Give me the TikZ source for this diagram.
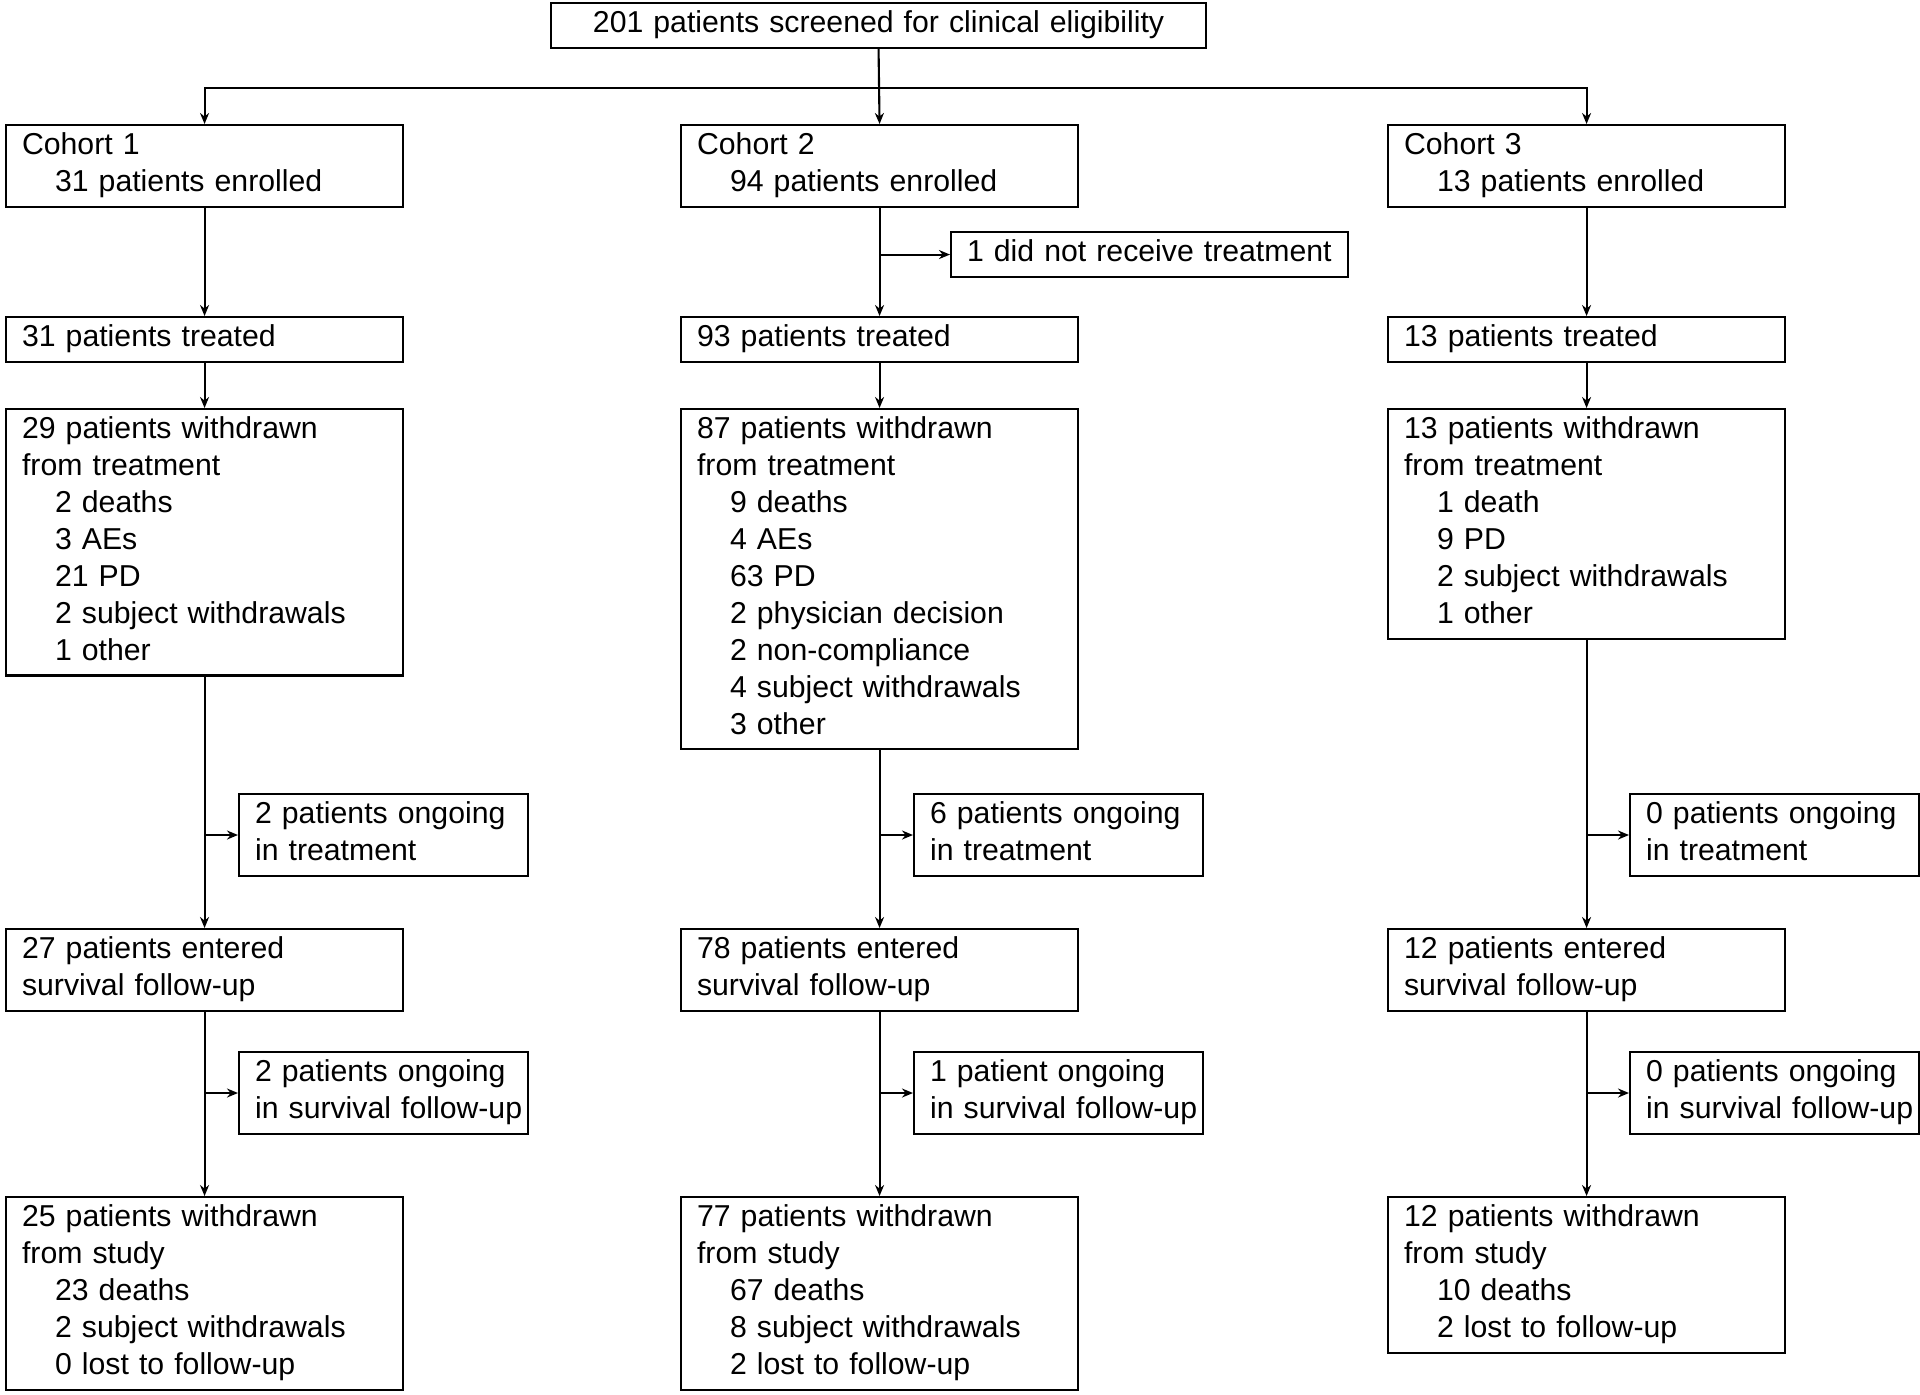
\documentclass[tikz,border=0pt]{standalone}
\usepackage{fontspec}
\setmainfont{Liberation Sans}
\usetikzlibrary{arrows.meta}
\newcommand{\ind}{\hspace*{3.3mm}}
\tikzset{
  box/.style={draw, line width=0.6pt, anchor=north west, align=left,
    text width=3.65cm, inner xsep=1.6mm, inner ysep=1.15pt,
    font=\fontsize{8.6}{10.5}\selectfont,
    execute at begin node=\strut, execute at end node=\strut},
  sidebox/.style={box, text width=2.57cm},
  arr/.style={line width=0.6pt, -{Stealth[length=1.1mm,width=0.9mm]}}
}
\begin{document}
\begin{tikzpicture}
\useasboundingbox (0,0) rectangle (19.2,-13.94);
\node[box, text width=6.23cm, align=center] (scr) at (5.50,-0.02) {201 patients screened for clinical eligibility};
\coordinate (split) at (8.78,-0.88);

\node[box] (c1) at (0.05,-1.24) {Cohort 1\\\ind 31 patients enrolled};
\node[box] (c2) at (6.80,-1.24) {Cohort 2\\\ind 94 patients enrolled};
\node[box] (c3) at (13.87,-1.24) {Cohort 3\\\ind 13 patients enrolled};
\node[box] (nr) at (9.50,-2.31) {\mbox{1 did not receive treatment}};

\node[box] (t1) at (0.05,-3.16) {31 patients treated};
\node[box] (t2) at (6.80,-3.16) {93 patients treated};
\node[box] (t3) at (13.87,-3.16) {13 patients treated};

\node[box] (w1) at (0.05,-4.08) {29 patients withdrawn\\from treatment\\\ind 2 deaths\\\ind 3 AEs\\\ind 21 PD\\\ind 2 subject withdrawals\\\ind 1 other};
\node[box] (w2) at (6.80,-4.08) {87 patients withdrawn\\from treatment\\\ind 9 deaths\\\ind 4 AEs\\\ind 63 PD\\\ind 2 physician decision\\\ind 2 non-compliance\\\ind 4 subject withdrawals\\\ind 3 other};
\node[box] (w3) at (13.87,-4.08) {13 patients withdrawn\\from treatment\\\ind 1 death\\\ind 9 PD\\\ind 2 subject withdrawals\\\ind 1 other};

\node[sidebox] (o1) at (2.38,-7.93) {2 patients ongoing\\in treatment};
\node[sidebox] (o2) at (9.13,-7.93) {6 patients ongoing\\in treatment};
\node[sidebox] (o3) at (16.29,-7.93) {0 patients ongoing\\in treatment};

\node[box] (e1) at (0.05,-9.28) {27 patients entered\\survival follow-up};
\node[box] (e2) at (6.80,-9.28) {78 patients entered\\survival follow-up};
\node[box] (e3) at (13.87,-9.28) {12 patients entered\\survival follow-up};

\node[sidebox] (f1) at (2.38,-10.51) {2 patients ongoing\\\mbox{in survival follow-up}};
\node[sidebox] (f2) at (9.13,-10.51) {1 patient ongoing\\\mbox{in survival follow-up}};
\node[sidebox] (f3) at (16.29,-10.51) {0 patients ongoing\\\mbox{in survival follow-up}};

\node[box] (s1) at (0.05,-11.96) {25 patients withdrawn\\from study\\\ind 23 deaths\\\ind 2 subject withdrawals\\\ind 0 lost to follow-up};
\node[box] (s2) at (6.80,-11.96) {77 patients withdrawn\\from study\\\ind 67 deaths\\\ind 8 subject withdrawals\\\ind 2 lost to follow-up};
\node[box] (s3) at (13.87,-11.96) {12 patients withdrawn\\from study\\\ind 10 deaths\\\ind 2 lost to follow-up};

\draw[arr] (scr.south) -- (c2.north);
\draw[arr] (split) -| (c1.north);
\draw[arr] (split) -| (c3.north);
\draw[arr] (c2.south |- nr.west) -- (nr.west);
\foreach \i in {1,2,3} {
    \draw[arr] (c\i.south) -- (t\i.north);
    \draw[arr] (t\i.south) -- (w\i.north);
    \draw[arr] (w\i.south) -- (e\i.north);
    \draw[arr] (e\i.south) -- (s\i.north);
    \draw[arr] (w\i.south |- o\i.west) -- (o\i.west);
    \draw[arr] (e\i.south |- f\i.west) -- (f\i.west);
}
\end{tikzpicture}
\end{document}
